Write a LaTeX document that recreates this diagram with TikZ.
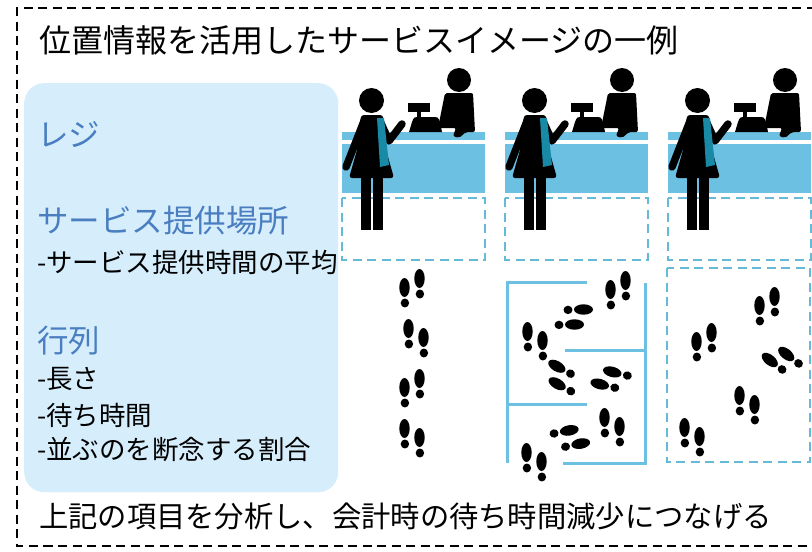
\documentclass[tikz,border=0pt]{standalone}
\usepackage{fontspec}
\newfontfamily\jp{Noto Sans CJK JP}
\definecolor{panelfill}{RGB}{214,238,252}
\definecolor{headblue}{RGB}{74,126,192}
\definecolor{bandblue}{RGB}{108,193,227}
\definecolor{bagteal}{RGB}{24,138,166}
\definecolor{zoneblue}{RGB}{100,186,216}
\newcommand{\shoeprint}[2]{%
  \fill (#1,#2) ellipse [x radius=5.2, y radius=9.5];
  \fill ($(#1,#2)+(0.4,15.5)$) ellipse [x radius=4.2, y radius=4.5];}
\usetikzlibrary{calc}
\tikzset{
  frame/.style={draw=black, line width=2.6pt, dash pattern=on 9pt off 5.5pt},
  bigtext/.style={inner sep=0pt, anchor=west, font=\jp\fontsize{32}{36}\selectfont},
  foottext/.style={inner sep=0pt, anchor=west, font=\jp\fontsize{29.3}{34}\selectfont},
  headtext/.style={inner sep=0pt, anchor=west, text=headblue, font=\jp\fontsize{31.5}{36}\selectfont},
  itemtext/.style={inner sep=0pt, anchor=west, font=\jp\fontsize{26.5}{30}\selectfont},
  zone/.style={draw=zoneblue, line width=2.6pt, dash pattern=on 9pt off 5.5pt},
  barrier/.style={draw=bandblue, line width=3pt},
  limb/.style={draw=black, line width=7.5pt, line cap=round, line join=round},
  % a pair of prints, toes up, left foot behind
  pics/stepsA/.style={code={
    \shoeprint{-7.5}{4.5}
    \shoeprint{7.5}{-4.5}
  }},
  % a pair of prints, toes up, right foot behind
  pics/stepsB/.style={code={
    \shoeprint{-7.5}{-4.5}
    \shoeprint{7.5}{4.5}
  }},
  % checkout counter with customer, cashier and register
  pics/station/.style={code={
    \fill[bandblue] (0,132) rectangle (143,140);
    \fill[bandblue] (0,144) rectangle (143,193);
    \draw[zone] (0,198) rectangle (143,260);
    % register
    \fill (66,103) rectangle (88,112);
    \fill (75,111) rectangle (79,118);
    \fill (67,132) -- (70,122) .. controls (72,117) .. (78,117) -- (90,117)
          .. controls (96,117) .. (98,122) -- (100,132) -- cycle;
    % cashier
    \fill (117,80) circle [radius=12];
    \fill[rounded corners=2pt] (103,93) -- (131,93) -- (133,132) -- (124,132)
          -- (117,138) -- (111,136) -- (114,128) -- (96,128) -- cycle;
    % customer
    \fill (29.5,100.5) circle [radius=12.5];
    \fill (19,176) rectangle (28.5,230);
    \fill (31,176) rectangle (40.5,230);
    \fill[rounded corners=3pt] (19,115) -- (41,115) -- (44,150) -- (52,178)
          -- (7,178) -- (15,150) -- cycle;
    \draw[limb] (22,121) -- (4,167);
    \draw[limb] (38,121) -- (47,141) -- (60,124);
    \fill[bagteal] (35,118) -- (42,118) -- (47,165) -- (38,167) -- cycle;
  }}
}
\begin{document}
\begin{tikzpicture}[x=1pt, y=-1pt]
\useasboundingbox (0,0) rectangle (812,552);
\clip (0,0) rectangle (812,552);
\fill[white] (0,0) rectangle (812,552);

% outer dashed frame (runs past the right edge)
\draw[frame] (830,8) -- (17,8) -- (17,546) -- (830,546);

\node[bigtext] (title) at (39,40) {位置情報を活用したサービスイメージの一例};
\node[foottext] (summary) at (39,516) {上記の項目を分析し、会計時の待ち時間減少につなげる};

% legend panel
\node[fill=panelfill, rounded corners=20pt, minimum width=314pt,
      minimum height=409pt, inner sep=0pt, anchor=north west] (panel) at (24,83) {};
\node[headtext] (register) at (37,135) {レジ};
\node[headtext] (service) at (37,221) {サービス提供場所};
\node[itemtext] (servicetime) at (37,262) {-サービス提供時間の平均};
\node[headtext] (queue) at (37,341) {行列};
\node[itemtext] (length) at (37,379) {-長さ};
\node[itemtext] (wait) at (37,415) {-待ち時間};
\node[itemtext] (balk) at (37,450) {-並ぶのを断念する割合};

% three checkout counters
\pic at (342,0) {station};
\pic at (505,0) {station};
\pic at (668,0) {station};

% single file line
\pic at (412,283) {stepsA};
\pic at (416,333) {stepsB};
\pic at (412,383) {stepsA};
\pic at (412,433) {stepsB};

% snaking line with barriers
\draw[barrier] (587,282) -- (507,282) -- (507,463);
\draw[barrier] (645,283) -- (645,463) -- (563,463);
\draw[barrier] (565,350) -- (645,350);
\draw[barrier] (507,404) -- (587,404);
\pic at (618,285) {stepsA};
\pic[rotate=-90] at (579,317) {stepsB};
\pic at (535,336) {stepsB};
\pic[rotate=60] at (557,375) {stepsA};
\pic[rotate=75] at (606,378) {stepsB};
\pic at (612,422) {stepsB};
\pic[rotate=-80] at (575,437) {stepsA};
\pic at (534,457) {stepsB};

% open waiting area
\draw[zone] (667,268) rectangle (810,462);
\pic at (767,301) {stepsA};
\pic at (704,337) {stepsA};
\pic[rotate=51] at (778,357) {stepsB};
\pic at (747,400) {stepsB};
\pic at (692,432) {stepsB};
\end{tikzpicture}
\end{document}
